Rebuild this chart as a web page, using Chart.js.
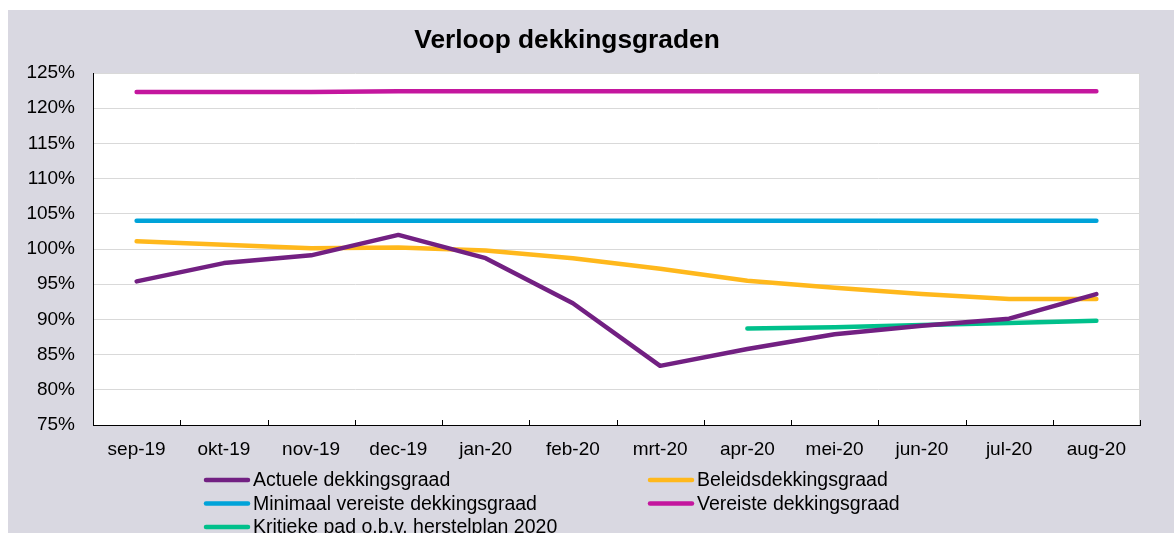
<!DOCTYPE html>
<html>
<head>
<meta charset="utf-8">
<script src="https://cdn.jsdelivr.net/npm/chart.js@4.4.1/dist/chart.umd.min.js"></script>
<style>
  html, body { margin: 0; padding: 0; background: #ffffff; }
  canvas { display: block; }
</style>
</head>
<body>
<canvas id="c" width="1174" height="533"></canvas>
<script>
const categories = ['sep-19','okt-19','nov-19','dec-19','jan-20','feb-20','mrt-20','apr-20','mei-20','jun-20','jul-20','aug-20'];
const actuele  = [95.4, 98.0, 99.1, 102.0, 98.7, 92.3, 83.4, 85.8, 87.9, 89.1, 90.1, 93.6];
const beleids  = [101.1, 100.6, 100.1, 100.2, 99.8, 98.7, 97.2, 95.5, 94.5, 93.6, 92.9, 92.9];
const minimaal = [104.0, 104.0, 104.0, 104.0, 104.0, 104.0, 104.0, 104.0, 104.0, 104.0, 104.0, 104.0];
const vereiste = [122.3, 122.3, 122.3, 122.4, 122.4, 122.4, 122.4, 122.4, 122.4, 122.4, 122.4, 122.4];
const kritieke = [null, null, null, null, null, null, null, 88.7, 88.9, 89.2, 89.5, 89.8];
const seriesNames = ['Actuele dekkingsgraad','Beleidsdekkingsgraad','Minimaal vereiste dekkingsgraad','Vereiste dekkingsgraad','Kritieke pad o.b.v. herstelplan 2020'];
const seriesColors = ['#722082','#FFB81C','#00A3D9','#C4169E','#00C08B'];
const titleText = 'Verloop dekkingsgraden';
const yMin = 75, yMax = 125, yStep = 5;

const FONT = "'Liberation Sans', Arial, sans-serif";
const seriesData = [actuele, beleids, minimaal, vereiste, kritieke];

const bgPlugin = {
  id: 'bg',
  beforeDraw(chart) {
    const ctx = chart.ctx, a = chart.chartArea;
    ctx.save();
    ctx.fillStyle = '#ffffff';
    ctx.fillRect(0, 0, chart.width, chart.height);
    ctx.fillStyle = '#d9d8e1';
    ctx.fillRect(8, 10, chart.width - 8, chart.height - 10);
    ctx.fillStyle = '#ffffff';
    ctx.fillRect(a.left, a.top, a.right - a.left, a.bottom - a.top);
    ctx.strokeStyle = '#d9d9d9';
    ctx.lineWidth = 1;
    ctx.beginPath();
    ctx.moveTo(a.right - 0.5, a.top);
    ctx.lineTo(a.right - 0.5, a.bottom);
    ctx.stroke();
    ctx.restore();
  },
  afterDraw(chart) {
    const ctx = chart.ctx, a = chart.chartArea;
    const xs = chart.scales.x;
    ctx.save();
    ctx.strokeStyle = '#000000';
    ctx.lineWidth = 1;
    ctx.beginPath();
    for (let i = 1; i <= categories.length; i++) {
      const px = Math.round(xs.getPixelForValue(i - 0.5)) + 0.5;
      ctx.moveTo(px, a.bottom);
      ctx.lineTo(px, a.bottom - 5);
    }
    ctx.stroke();
    ctx.fillStyle = '#000000';
    ctx.font = 'bold 26.3px ' + FONT;
    ctx.textAlign = 'center';
    ctx.textBaseline = 'middle';
    ctx.fillText(titleText, 567, 41);
    const colX = [204, 648];
    const rowY = [480, 503.5, 527];
    ctx.font = '19.5px ' + FONT;
    ctx.textAlign = 'left';
    chart.data.datasets.forEach((ds, i) => {
      const cx = colX[i % 2], cy = rowY[Math.floor(i / 2)];
      ctx.strokeStyle = ds.borderColor;
      ctx.lineWidth = 4.5;
      ctx.lineCap = 'round';
      ctx.beginPath();
      ctx.moveTo(cx + 2, cy);
      ctx.lineTo(cx + 44, cy);
      ctx.stroke();
      ctx.fillStyle = '#000000';
      ctx.fillText(ds.label, cx + 49, cy + 1);
    });
    ctx.restore();
  }
};

new Chart(document.getElementById('c'), {
  type: 'line',
  data: {
    labels: categories,
    datasets: seriesData.map((d, i) => ({
      label: seriesNames[i],
      data: d,
      borderColor: seriesColors[i],
      backgroundColor: seriesColors[i],
      borderWidth: 4.5,
      borderCapStyle: 'round',
      borderJoinStyle: 'round',
      pointRadius: 0,
      tension: 0,
      fill: false,
      spanGaps: false
    }))
  },
  options: {
    responsive: false,
    animation: false,
    devicePixelRatio: 1,
    layout: { padding: { left: 0, right: 34, top: 73, bottom: 0 } },
    plugins: {
      legend: { display: false },
      title: { display: false },
      tooltip: { enabled: false }
    },
    scales: {
      x: {
        type: 'category',
        offset: true,
        grid: { drawOnChartArea: false, drawTicks: false, offset: true },
        border: { display: true, color: '#000000', width: 1 },
        ticks: { color: '#000000', font: { family: FONT, size: 19 }, padding: 13, maxRotation: 0, autoSkip: false },
        afterFit(s) { s.height = 108; }
      },
      y: {
        min: yMin,
        max: yMax,
        grid: { color: '#d9d9d9', lineWidth: 1, drawTicks: false },
        border: { display: true, color: '#000000', width: 1 },
        ticks: {
          stepSize: yStep,
          color: '#000000',
          font: { family: FONT, size: 19 },
          padding: 18,
          callback: v => v + '%'
        },
        afterFit(s) { s.width = 93; }
      }
    }
  },
  plugins: [bgPlugin]
});
</script>
</body>
</html>
